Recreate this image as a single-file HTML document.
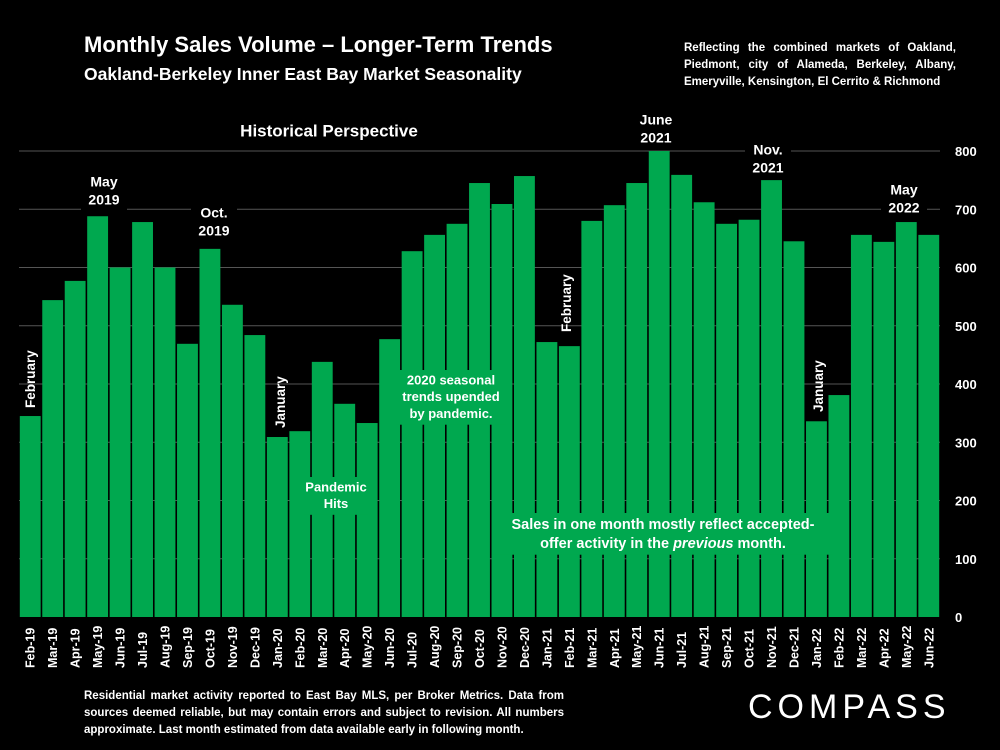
<!DOCTYPE html>
<html><head><meta charset="utf-8"><style>
body{margin:0;background:#000;}
#c{position:relative;width:1000px;height:750px;background:#000;overflow:hidden;font-family:"Liberation Sans",sans-serif;color:#fff;font-weight:bold;}
.t{position:absolute;white-space:nowrap;}
</style></head><body>
<div id="c">
<div class="t" style="left:84px;top:32px;font-size:22px;">Monthly Sales Volume – Longer-Term Trends</div>
<div class="t" style="left:84px;top:64px;font-size:17.5px;">Oakland-Berkeley Inner East Bay Market Seasonality</div>
<div class="t" style="left:684px;top:40px;font-size:11.5px;line-height:17px;text-align:justify;white-space:normal;width:272px;">Reflecting the combined markets of Oakland, Piedmont, city of Alameda, Berkeley, Albany, Emeryville, Kensington, El Cerrito &amp; Richmond</div>
<svg id="svg" width="1000" height="750" style="position:absolute;left:0;top:0"></svg>
<div class="t" style="left:84px;top:688px;font-size:11.5px;line-height:17px;white-space:normal;width:480px;text-align:justify;">Residential market activity reported to East Bay MLS, per Broker Metrics. Data from sources deemed reliable, but may contain errors and subject to revision. All numbers approximate. Last month estimated from data available early in following month.</div>
<div class="t" style="left:748px;top:688px;font-size:34px;font-weight:normal;letter-spacing:5px;">COMPASS</div>
</div>
<script>
const categories=["Feb-19","Mar-19","Apr-19","May-19","Jun-19","Jul-19","Aug-19","Sep-19","Oct-19","Nov-19","Dec-19","Jan-20","Feb-20","Mar-20","Apr-20","May-20","Jun-20","Jul-20","Aug-20","Sep-20","Oct-20","Nov-20","Dec-20","Jan-21","Feb-21","Mar-21","Apr-21","May-21","Jun-21","Jul-21","Aug-21","Sep-21","Oct-21","Nov-21","Dec-21","Jan-22","Feb-22","Mar-22","Apr-22","May-22","Jun-22"];
const sales=[345,544,577,688,600,678,600,469,632,536,484,309,319,438,366,333,477,628,656,675,745,709,757,472,465,680,707,745,800,759,712,675,682,750,645,336,381,656,644,678,656];
const yTicks=[0,100,200,300,400,500,600,700,800];
const NS='http://www.w3.org/2000/svg';
const svg=document.getElementById('svg');
const x0=19,x1=940,y0=617,y1=151,yMax=800;
const pitch=(x1-x0)/categories.length;
const xPos=i=>x0+i*pitch;
const yPos=v=>y0-(v/yMax)*(y0-y1);
function mk(t,a){const e=document.createElementNS(NS,t);for(const k in a)e.setAttribute(k,a[k]);svg.appendChild(e);return e;}
yTicks.forEach(v=>{
 if(v>0){const g=mk('line',{x1:x0,x2:x1,y1:yPos(v),y2:yPos(v),stroke:'#555','stroke-width':1});
 
 }
 const t=mk('text',{x:955,y:yPos(v)+5,fill:'#fff','font-size':13,'font-weight':'bold','font-family':'Liberation Sans'});
 t.textContent=v;
 
 
});
sales.forEach((v,i)=>{
 const r=mk('rect',{x:xPos(i)+0.8,y:yPos(v),width:pitch-1.6,height:y0-yPos(v),fill:'#00a84f'});
 
 
 const cx=xPos(i)+pitch/2+4.5;
 const t=mk('text',{x:cx,y:668,fill:'#fff','font-size':12.5,'font-weight':'bold','font-family':'Liberation Sans',transform:`rotate(-90 ${cx} 668)`});
 t.textContent=categories[i];
 
 
});
function note(lines,cx,top,fs,bg,w,name){
 const h=lines.length*fs*1.3+4;
 if(bg){const r=mk('rect',{x:cx-w/2,y:top,width:w,height:h,fill:bg});
 
 }
 lines.forEach((l,k)=>{const t=mk('text',{x:cx,y:top+fs*1.1+k*fs*1.3,fill:'#fff','font-size':fs,'font-weight':'bold','font-family':'Liberation Sans','text-anchor':'middle'});
 t.innerHTML=l;
 
 });
}
note(['Historical Perspective'],329,118,17,'#000',210,'historical-perspective');
note(['May','2019'],104,171,14,'#000',46,'may-2019-label');
note(['Oct.','2019'],214,202,14,'#000',46,'oct-2019-label');
note(['June','2021'],656,109,14,'#000',46,'june-2021-label');
note(['Nov.','2021'],768,139,14,'#000',46,'nov-2021-label');
note(['May','2022'],904,179,14,'#000',46,'may-2022-label');
note(['Pandemic','Hits'],336,477,13,'#00a84f',64,'pandemic-hits-note');
note(['2020 seasonal','trends upended','by pandemic.'],451,370,13,'#00a84f',110,'pandemic-trends-note');
note(['Sales in one month mostly reflect accepted-','offer activity in the <tspan font-style="italic">previous</tspan> month.'],663,513,14.5,'#00a84f',340,'sales-note');
function vlab(txt,cx,bottom,name){const t=mk('text',{x:cx,y:bottom,fill:'#fff','font-size':13.5,'font-weight':'bold','font-family':'Liberation Sans',transform:`rotate(-90 ${cx} ${bottom})`});
 t.textContent=txt;
 
 }
vlab('February',35,408,'february-2019-label');
vlab('January',285,428,'january-2020-label');
vlab('February',571,332,'february-2021-label');
vlab('January',823,412,'january-2022-label');
</script>
</body></html>
